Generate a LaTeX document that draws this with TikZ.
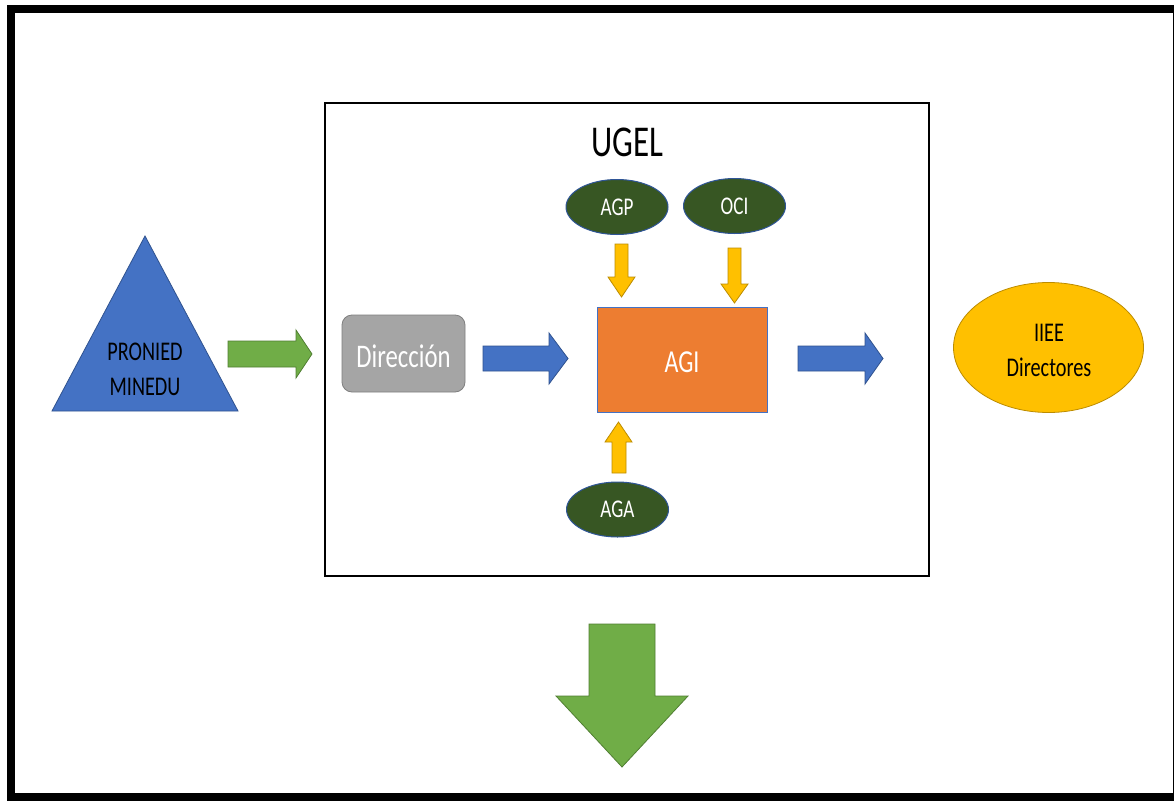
\documentclass[tikz,border=0pt]{standalone}
\usepackage{fontspec}
\setmainfont{Carlito}
\usetikzlibrary{shapes.geometric}
\definecolor{triblue}{HTML}{4472C4}
\definecolor{triedge}{HTML}{2F528F}
\definecolor{agreen}{HTML}{70AD47}
\definecolor{agreenedge}{HTML}{507E32}
\definecolor{dgray}{HTML}{A5A5A5}
\definecolor{dgrayedge}{HTML}{7F7F7F}
\definecolor{agiorange}{HTML}{ED7D31}
\definecolor{ayellow}{HTML}{FFC000}
\definecolor{ayellowedge}{HTML}{BC8C00}
\definecolor{dkgreen}{HTML}{375623}
\definecolor{elledge}{HTML}{2F5597}
\newcommand{\sq}[1]{\scalebox{0.75}[1]{#1}}
\begin{document}
\begin{tikzpicture}[x=1pt,y=-1pt,
  greenarrow/.style={fill=agreen,draw=agreenedge,line width=0.8pt},
  bluearrow/.style={fill=triblue,draw=triedge,line width=0.8pt},
  yellowarrow/.style={fill=ayellow,draw=ayellowedge,line width=0.8pt},
  areaell/.style={ellipse,fill=dkgreen,draw=elledge,line width=1pt,minimum width=102pt,minimum height=55pt,inner sep=0pt,text=white,font=\fontsize{25.5}{30}\selectfont},
  lbl/.style={inner sep=0pt,align=center}]
\useasboundingbox (0,0) rectangle (1174,800);
\fill[white] (0,0) rectangle (1174,800);
% outer frame
\draw[line width=8pt] (11,9) rectangle (1177,797);
% UGEL box
\draw[line width=1.2pt] (325,103) rectangle (929,576);
\node[lbl,font=\fontsize{44}{50}\selectfont] (ugel) at (627,142) {\sq{UGEL}};
% triangle
\filldraw[fill=triblue,draw=triedge,line width=0.8pt] (145,236) -- (238,411) -- (52,411) -- cycle;
\node[lbl,font=\fontsize{27}{35}\selectfont] (pronied) at (145,370.5) {\sq{\begin{tabular}{@{}c@{}}PRONIED\\MINEDU\end{tabular}}};
% green arrow right
\filldraw[greenarrow] (228,341) -- (296,341) -- (296,330) -- (312,354) -- (296,378) -- (296,367) -- (228,367) -- cycle;
% Direccion
\node[draw=dgrayedge,fill=dgray,rounded corners=10pt,line width=0.8pt,minimum width=123pt,minimum height=77pt,inner sep=0pt] (dir) at (403.5,353.5) {};
\node[lbl,text=white,font=\fontsize{33}{40}\selectfont] (dirtext) at (403.5,356) {\sq{Dirección}};
% blue arrow 1
\filldraw[bluearrow] (483,346) -- (549,346) -- (549,333) -- (568,358.5) -- (549,384) -- (549,371) -- (483,371) -- cycle;
% AGI
\node[fill=agiorange,draw=triblue,line width=0.8pt,minimum width=170pt,minimum height=105pt,inner sep=0pt] (agi) at (682,359.5) {};
\node[lbl,text=white,font=\fontsize{32}{40}\selectfont] (agitext) at (682,362) {\sq{AGI}};
% blue arrow 2
\filldraw[bluearrow] (798,346) -- (865,346) -- (865,333) -- (883,358.5) -- (865,384) -- (865,371) -- (798,371) -- cycle;
% IIEE
\node[ellipse,fill=ayellow,draw=ayellowedge,line width=0.8pt,minimum width=190pt,minimum height=130pt,inner sep=0pt] (iiee) at (1048.5,347.5) {};
\node[lbl,font=\fontsize{27}{35}\selectfont] (iieetext) at (1049,352) {\sq{\begin{tabular}{@{}c@{}}IIEE\\Directores\end{tabular}}};
% small ellipses
\node[areaell] (agp) at (617,207) {\sq{AGP}};
\node[areaell] (oci) at (734.5,206) {\sq{OCI}};
\node[areaell] (aga) at (617.5,509.5) {\sq{AGA}};
% yellow arrows
\filldraw[yellowarrow] (615,244) -- (628,244) -- (628,277) -- (635,277) -- (621.5,297) -- (608,277) -- (615,277) -- cycle;
\filldraw[yellowarrow] (728,248) -- (741,248) -- (741,284) -- (748,284) -- (734.5,303) -- (721,284) -- (728,284) -- cycle;
\filldraw[yellowarrow] (612,473) -- (626,473) -- (626,442) -- (632,442) -- (618.5,422) -- (605,442) -- (612,442) -- cycle;
% big green down arrow
\filldraw[greenarrow] (589,624) -- (655,624) -- (655,696) -- (688,696) -- (622,767) -- (556,696) -- (589,696) -- cycle;
\end{tikzpicture}
\end{document}
